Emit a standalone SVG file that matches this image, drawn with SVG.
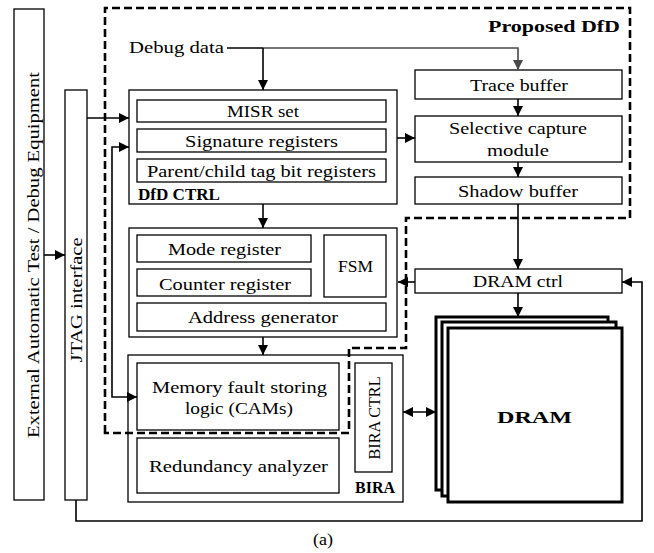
<svg xmlns="http://www.w3.org/2000/svg" width="654" height="553" viewBox="0 0 654 553">
<style>
.box{fill:#fff;stroke:#000;stroke-width:1.3}
.dram{fill:#fff;stroke:#000;stroke-width:3}
.t{font-family:"Liberation Serif","Times New Roman",serif;font-size:17px;fill:#000}
.b{font-weight:bold}
.ln{fill:none;stroke:#000;stroke-width:1.6}
.gr{fill:none;stroke:#4a4a4a;stroke-width:1.6}
.dash{fill:none;stroke:#000;stroke-width:2.6;stroke-dasharray:8 4}
</style>
<defs>
<marker id="ah" viewBox="0 0 10 10" refX="10" refY="5" markerWidth="10" markerHeight="10" markerUnits="userSpaceOnUse" orient="auto-start-reverse"><path d="M0,0 L10,5 L0,10 Z" fill="#000"/></marker>
<marker id="ahg" viewBox="0 0 10 10" refX="10" refY="5" markerWidth="10" markerHeight="10" markerUnits="userSpaceOnUse" orient="auto-start-reverse"><path d="M0,0 L10,5 L0,10 Z" fill="#4a4a4a"/></marker>
</defs>
<rect width="654" height="553" fill="#fff"/>

<g id="ext">
<rect class="box" x="14" y="9" width="30" height="491"/>
<text class="t" x="39" y="255" text-anchor="middle" transform="rotate(-90 39 255)" font-size="18" textLength="366" lengthAdjust="spacingAndGlyphs">External Automatic Test / Debug Equipment</text>
</g>
<g id="jtag">
<rect class="box" x="65" y="90" width="22" height="410"/>
<text class="t" x="82" y="300" text-anchor="middle" transform="rotate(-90 82 300)" textLength="125" lengthAdjust="spacingAndGlyphs">JTAG interface</text>
</g>

<g id="dfdctrl">
<rect class="box" x="129" y="90" width="268" height="114"/>
<rect class="box" x="137" y="100" width="249" height="22"/>
<text class="t" x="227" y="117" textLength="72" lengthAdjust="spacingAndGlyphs">MISR set</text>
<rect class="box" x="137" y="129" width="249" height="23"/>
<text class="t" x="185" y="147" textLength="153" lengthAdjust="spacingAndGlyphs">Signature registers</text>
<rect class="box" x="137" y="159" width="249" height="23"/>
<text class="t" x="147" y="177" textLength="229" lengthAdjust="spacingAndGlyphs">Parent/child tag bit registers</text>
<text class="t b" x="138" y="200" font-size="15" textLength="82" lengthAdjust="spacingAndGlyphs">DfD CTRL</text>
</g>

<g id="ctrlunit">
<rect class="box" x="129" y="228" width="268" height="109"/>
<rect class="box" x="137" y="235" width="174" height="27"/>
<text class="t" x="168" y="255" textLength="113" lengthAdjust="spacingAndGlyphs">Mode register</text>
<rect class="box" x="137" y="269" width="174" height="27"/>
<text class="t" x="159" y="290" textLength="132" lengthAdjust="spacingAndGlyphs">Counter register</text>
<rect class="box" x="324" y="235" width="62" height="62"/>
<text class="t" x="338" y="272" textLength="35" lengthAdjust="spacingAndGlyphs">FSM</text>
<rect class="box" x="137" y="303" width="249" height="28"/>
<text class="t" x="188" y="323" textLength="150" lengthAdjust="spacingAndGlyphs">Address generator</text>
</g>

<g id="bira">
<rect class="box" x="128" y="355" width="275" height="147"/>
<rect class="box" x="137" y="363" width="202" height="67"/>
<text class="t" x="152" y="393" textLength="175" lengthAdjust="spacingAndGlyphs">Memory fault storing</text>
<text class="t" x="185" y="414" textLength="108" lengthAdjust="spacingAndGlyphs">logic (CAMs)</text>
<rect class="box" x="137" y="438" width="202" height="55"/>
<text class="t" x="149" y="472" textLength="179" lengthAdjust="spacingAndGlyphs">Redundancy analyzer</text>
<rect class="box" x="355" y="363" width="37" height="109"/>
<text class="t" x="380" y="418" text-anchor="middle" transform="rotate(-90 380 418)" font-size="16" textLength="83" lengthAdjust="spacingAndGlyphs">BIRA CTRL</text>
<text class="t b" x="355" y="493" font-size="15" textLength="40" lengthAdjust="spacingAndGlyphs">BIRA</text>
</g>

<g id="trace">
<rect class="box" x="415" y="70" width="207" height="29"/>
<text class="t" x="470" y="91" textLength="98" lengthAdjust="spacingAndGlyphs">Trace buffer</text>
</g>
<g id="selective">
<rect class="box" x="415" y="116" width="207" height="46"/>
<text class="t" x="449" y="134" textLength="138" lengthAdjust="spacingAndGlyphs">Selective capture</text>
<text class="t" x="487" y="156" textLength="62" lengthAdjust="spacingAndGlyphs">module</text>
</g>
<g id="shadow">
<rect class="box" x="415" y="177" width="207" height="27"/>
<text class="t" x="458" y="197" textLength="120" lengthAdjust="spacingAndGlyphs">Shadow buffer</text>
</g>
<g id="dramctrl">
<rect class="box" x="415" y="269" width="207" height="24"/>
<text class="t" x="473" y="287" textLength="90" lengthAdjust="spacingAndGlyphs">DRAM ctrl</text>
</g>
<g id="dram">
<rect class="dram" x="436" y="317" width="172" height="173"/>
<rect class="dram" x="442" y="322" width="174" height="174"/>
<rect class="dram" x="448" y="328" width="174" height="174"/>
<text class="t b" x="497" y="423" font-size="24" textLength="75" lengthAdjust="spacingAndGlyphs">DRAM</text>
</g>

<g id="dfd-boundary">
<path class="dash" d="M105,433 L105,8 L630,8 L630,218 L406,218 L406,348 L349,348 L349,433 Z"/>
<text class="t b" x="488" y="32" font-size="18" textLength="132" lengthAdjust="spacingAndGlyphs">Proposed DfD</text>
</g>

<g id="debug">
<text class="t" x="129" y="53" textLength="95" lengthAdjust="spacingAndGlyphs">Debug data</text>
</g>

<g id="connectors">
<path class="ln" d="M227,48 L263,48"/>
<path class="gr" d="M263,48 L518,48 L518,70" marker-end="url(#ahg)"/>
<path class="ln" d="M263,48 L263,90" marker-end="url(#ah)"/>
<path class="ln" d="M87,118 L129,118" marker-end="url(#ah)"/>
<path class="ln" d="M44,255 L65,255" marker-end="url(#ah)"/>
<path class="ln" d="M129,147 L112,147 L112,397 L137,397" marker-start="url(#ah)" marker-end="url(#ah)"/>
<path class="ln" d="M263,204 L263,228" marker-end="url(#ah)"/>
<path class="ln" d="M263,337 L263,355" marker-end="url(#ah)"/>
<path class="ln" d="M397,138 L415,138" marker-end="url(#ah)"/>
<path class="ln" d="M518,99 L518,116" marker-end="url(#ah)"/>
<path class="ln" d="M518,162 L518,177" marker-end="url(#ah)"/>
<path class="ln" d="M518,204 L518,269" marker-end="url(#ah)"/>
<path class="ln" d="M415,282 L398,282" marker-end="url(#ah)"/>
<path class="ln" d="M518,293 L518,317" marker-end="url(#ah)"/>
<path class="ln" d="M403,412 L436,412" marker-start="url(#ah)" marker-end="url(#ah)"/>
<path class="ln" d="M76,500 L76,521 L642,521 L642,282 L622,282" marker-end="url(#ah)"/>
</g>

<text class="t" x="313" y="545" textLength="20" lengthAdjust="spacingAndGlyphs">(a)</text>
</svg>
